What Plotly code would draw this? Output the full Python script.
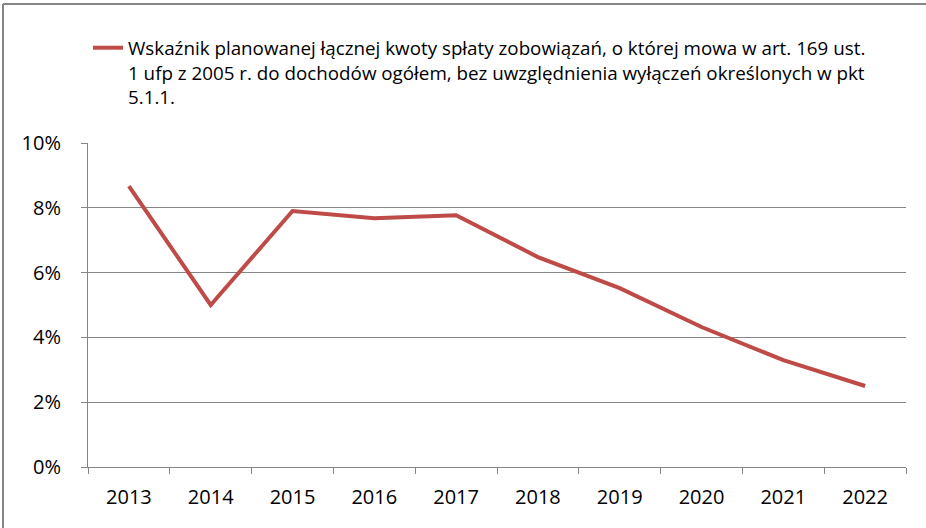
import plotly.graph_objects as go

years = ["2013", "2014", "2015", "2016", "2017", "2018", "2019", "2020", "2021", "2022"]
values = [0.0867, 0.0500, 0.0790, 0.0768, 0.0777, 0.0648, 0.0552, 0.0432, 0.0330, 0.0250]
series_name = ("Wskaźnik planowanej łącznej kwoty spłaty zobowiązań, o której mowa w art. 169 ust.<br>"
               "1 ufp z 2005 r. do dochodów ogółem, bez uwzględnienia wyłączeń określonych w pkt<br>"
               "5.1.1.")
y_ticks = [0, 0.02, 0.04, 0.06, 0.08, 0.10]
y_labels = ["0%", "2%", "4%", "6%", "8%", "10%"]

W, H = 926, 528
L, R, T, B = 88, 906, 143, 467
PW, PH = R - L, B - T


def px(x):
    return (x - L) / PW


def py(y):
    return (B - y) / PH


fig = go.Figure()
fig.add_trace(go.Scatter(
    x=years, y=values, mode="lines", name=series_name,
    line=dict(color="#BE4B48", width=4),
    showlegend=True,
))

fig.update_layout(
    width=W, height=H,
    margin=dict(l=L, r=W - R, t=T, b=H - B),
    paper_bgcolor="white", plot_bgcolor="white",
    font=dict(family="Open Sans", color="black"),
    legend=dict(
        x=px(88), xanchor="left",
        y=py(29), yanchor="top",
        font=dict(size=18.8, family="Open Sans"),
        valign="top", bgcolor="rgba(0,0,0,0)",
        itemwidth=30, tracegroupgap=0,
    ),
    xaxis=dict(
        type="category", tickson="boundaries", ticks="outside", ticklen=6,
        tickcolor="#868686", showline=True, linecolor="#868686", linewidth=1,
        showgrid=False, tickfont=dict(size=20, family="Open Sans"),
        range=[-0.5, 9.5], ticklabelstandoff=12,
    ),
    yaxis=dict(
        range=[0, 0.10], tickvals=y_ticks, ticktext=y_labels,
        ticks="outside", ticklen=6, tickcolor="#868686",
        showline=True, linecolor="#868686", linewidth=1,
        showgrid=True, gridcolor="#868686", gridwidth=1,
        tickfont=dict(size=20, family="Open Sans"), zeroline=False,
        ticklabelstandoff=16,
    ),
    shapes=[
        dict(type="line", xref="paper", yref="paper",
             x0=px(3), x1=px(940), y0=py(4), y1=py(4),
             line=dict(color="#868686", width=2)),
        dict(type="line", xref="paper", yref="paper",
             x0=px(3), x1=px(3), y0=py(4), y1=py(545),
             line=dict(color="#868686", width=2)),
    ],
)

fig.write_html("out.html",
               config={"displayModeBar": False},
               post_script="document.body.style.margin='0px';document.body.style.overflow='hidden';")
